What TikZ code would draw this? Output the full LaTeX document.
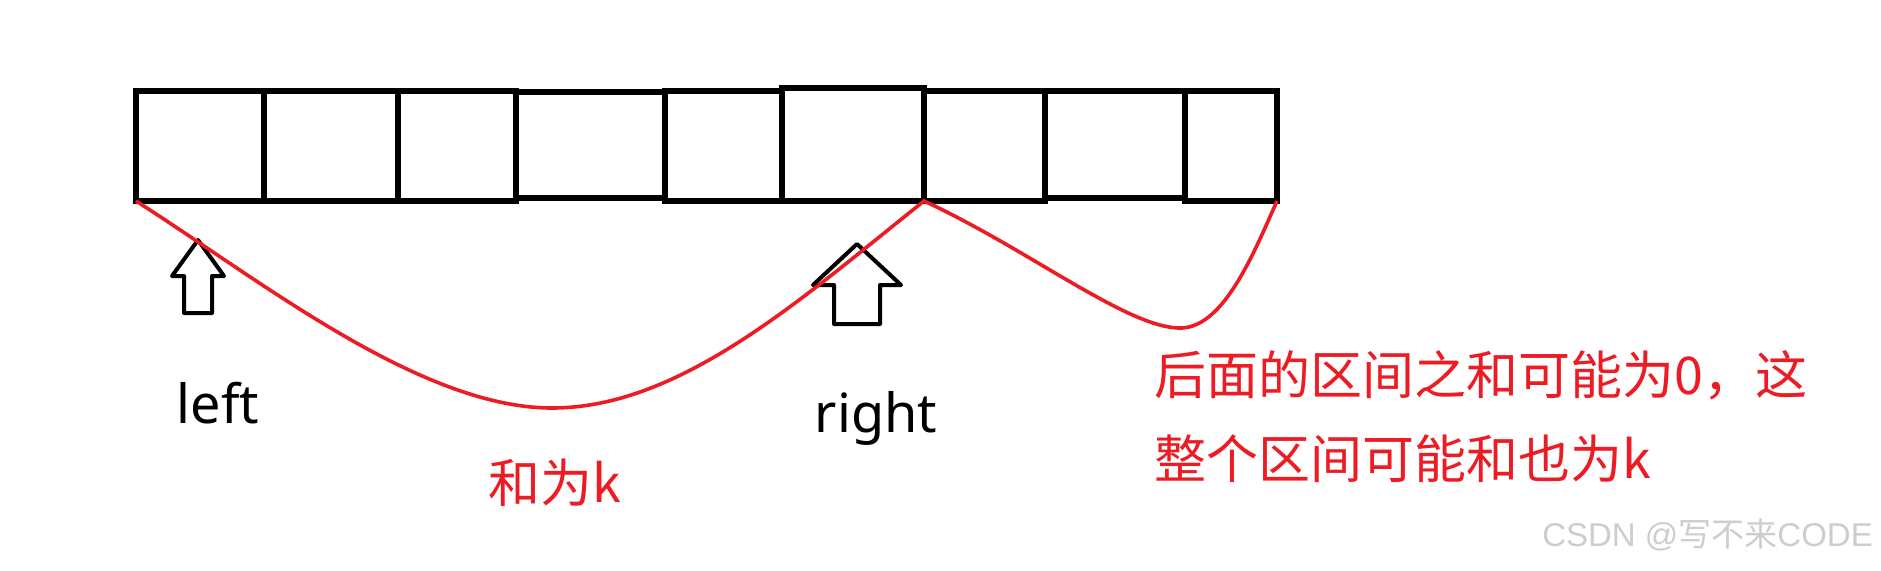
\documentclass[tikz,border=0pt]{standalone}
\usepackage{fontspec}
\setmainfont{Noto Sans}
\newfontfamily\cjk{Noto Sans CJK SC}
\newfontfamily\wmfont{Liberation Sans}
\definecolor{paintred}{RGB}{237,28,36}
\definecolor{markgray}{RGB}{205,205,205}
\begin{document}
\begin{tikzpicture}[x=1pt,y=-1pt,
  cell/.style={line width=5.2pt},
  sumcurve/.style={paintred,line width=3.6pt},
  pointer/.style={line width=4pt,line join=round},
  note/.style={paintred,font=\cjk\fontsize{52}{84}\selectfont,inner sep=0pt},
  word/.style={font=\fontsize{54}{60}\selectfont,inner sep=0pt}]
  \useasboundingbox (0,0) rectangle (1881,570);
  \foreach \xa/\xb/\ya/\yb in {136/264/91/201,264/398/91/201,398/516/91/201,516/665/92/198,665/782/91/201,
                               782/924/88/201,924/1045/91/201,1045/1185/91/198,1185/1277/91/201}
    \draw[cell] (\xa,\ya) rectangle (\xb,\yb);
  \foreach \cx/\ty/\hy/\hw/\sw/\by in {198/240/276/26/14/313,857/244/285/44/23/324}
    \draw[pointer] (\cx,\ty) -- (\cx+\hw,\hy) -- (\cx+\sw,\hy) -- (\cx+\sw,\by)
      -- (\cx-\sw,\by) -- (\cx-\sw,\hy) -- (\cx-\hw,\hy) -- cycle;
  \coordinate (start) at (136,201);
  \coordinate (peak) at (924,201);
  \coordinate (end) at (1277,201);
  \draw[sumcurve] (start) .. controls (260,280) and (420,408) .. (552,408)
    .. controls (680,408) and (800,300) .. (peak)
    .. controls (1030,250) and (1130,330) .. (1182,328)
    .. controls (1225,326) and (1255,250) .. (end);
  \node[word,anchor=base] (lefttxt) at (218,423) {left};
  \node[word,anchor=base] (righttxt) at (876,432) {right};
  \node[note,anchor=base] (sumtxt) at (555,502) {和为k};
  \node[note,anchor=north west,align=left] (tailtxt) at (1154,350) {后面的区间之和可能为0，这\\整个区间可能和也为k};
  \node[markgray,anchor=base east,inner sep=0pt,font=\wmfont\fontsize{33}{33}\selectfont] (mark) at (1873,546) {CSDN @{\cjk 写不来}CODE};
\end{tikzpicture}
\end{document}
